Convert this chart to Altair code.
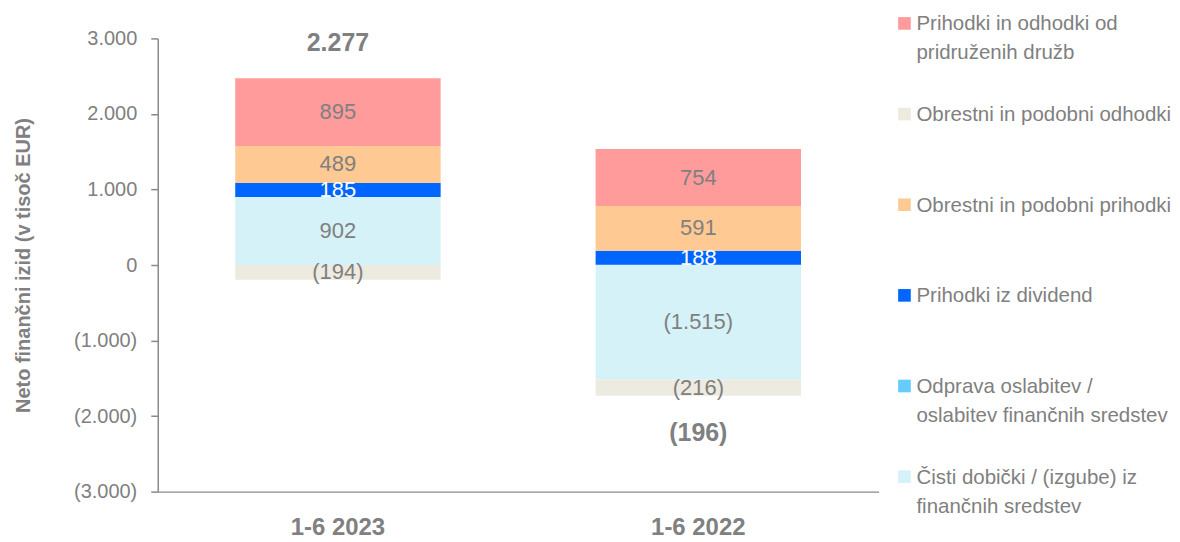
import altair as alt
import pandas as pd

periods = ["1-6 2023", "1-6 2022"]
categories = [
    "Čisti dobički / (izgube) iz finančnih sredstev",
    "Odprava oslabitev / oslabitev finančnih sredstev",
    "Prihodki iz dividend",
    "Obrestni in podobni prihodki",
    "Prihodki in odhodki od pridruženih družb",
    "Obrestni in podobni odhodki",
]
values_2023 = [902, 0, 185, 489, 895, -194]
values_2022 = [-1515, 2, 188, 591, 754, -216]
colors = ["#D5F2F8", "#66CCFF", "#0066FF", "#FFC993", "#FF9B9B", "#EDEAE0"]
label_colors = ["#808080", "#808080", "#FFFFFF", "#808080", "#808080", "#808080"]

legend_labels = [
    "Prihodki in odhodki od\npridruženih družb",
    "Obrestni in podobni odhodki",
    "Obrestni in podobni prihodki",
    "Prihodki iz dividend",
    "Odprava oslabitev /\noslabitev finančnih sredstev",
    "Čisti dobički / (izgube) iz\nfinančnih sredstev",
]
legend_cat_index = [4, 5, 3, 2, 1, 0]

GRAY = "#808080"
AXIS_GRAY = "#8a8a8a"
FONT = "Liberation Sans"

rows = []
for p, vals in zip(periods, [values_2023, values_2022]):
    for i, (c, v) in enumerate(zip(categories, vals)):
        rows.append({"period": p, "category": c, "value": v, "order": i,
                     "lcolor": label_colors[i], "show": 0 if i == 1 else 1})
df = pd.DataFrame(rows)

leg = pd.DataFrame({
    "idx": list(range(len(legend_labels))),
    "label": legend_labels,
    "col": [colors[i] for i in legend_cat_index],
})

fmt = ("datum.value < 0 ? '(' + replace(format(-datum.value, ','), ',', '.') + ')'"
       " : replace(format(datum.value, ','), ',', '.')")
fmt_total = ("datum.total < 0 ? '(' + replace(format(-datum.total, ','), ',', '.') + ')'"
             " : replace(format(datum.total, ','), ',', '.')")

yscale = alt.Scale(domain=[-3000, 3000], nice=False, zero=False)
xscale = alt.Scale(domain=periods, paddingInner=0.43, paddingOuter=0.215)

base = alt.Chart(df).transform_stack(
    stack="value", groupby=["period"], as_=["v0", "v1"],
    sort=[alt.SortField("order", order="ascending")]
).transform_calculate(mid="(datum.v0 + datum.v1) / 2", label=fmt)

bars = base.mark_bar().encode(
    x=alt.X("period:N", scale=xscale, sort=periods,
            axis=alt.Axis(title=None, labelAngle=0, labelFontSize=24, labelFontWeight="bold",
                          labelColor=GRAY, ticks=False, labelPadding=24,
                          domainColor=AXIS_GRAY, domainWidth=1.5, labelFont=FONT)),
    y=alt.Y("v0:Q", scale=yscale,
            axis=alt.Axis(values=[-3000, -2000, -1000, 0, 1000, 2000, 3000], labelExpr=fmt,
                          title="Neto finančni izid (v tisoč EUR)", titleFontSize=20,
                          titleFontWeight="bold", titleColor=GRAY, titlePadding=40,
                          labelColor=GRAY, labelFontSize=20, labelPadding=14, tickSize=7,
                          tickColor=AXIS_GRAY, domainColor=AXIS_GRAY, domainWidth=1.5,
                          tickWidth=1.5, grid=False, labelFont=FONT, titleFont=FONT)),
    y2="v1:Q",
    color=alt.Color("category:N", scale=alt.Scale(domain=categories, range=colors), legend=None),
)

labels = base.transform_filter("datum.show == 1").mark_text(
    fontSize=22, font=FONT, baseline="middle"
).encode(
    x=alt.X("period:N", scale=xscale, sort=periods),
    y=alt.Y("mid:Q", scale=yscale),
    text="label:N",
    color=alt.Color("lcolor:N", scale=None),
)

tot_base = alt.Chart(df).transform_calculate(
    pos="max(datum.value, 0)", neg="min(datum.value, 0)"
).transform_aggregate(
    total="sum(value)", top="sum(pos)", bottom="sum(neg)", groupby=["period"]
).transform_calculate(tlabel=fmt_total)

tot_pos = tot_base.transform_filter("datum.total >= 0").mark_text(
    fontSize=25, fontWeight="bold", color=GRAY, font=FONT, baseline="middle", dy=-35
).encode(x=alt.X("period:N", scale=xscale, sort=periods),
         y=alt.Y("top:Q", scale=yscale), text="tlabel:N")

tot_neg = tot_base.transform_filter("datum.total < 0").mark_text(
    fontSize=25, fontWeight="bold", color=GRAY, font=FONT, baseline="middle", dy=37
).encode(x=alt.X("period:N", scale=xscale, sort=periods),
         y=alt.Y("bottom:Q", scale=yscale), text="tlabel:N")

main = alt.layer(bars, labels, tot_pos, tot_neg)

lscale = alt.Scale(domain=[0, 5], range=[-15, 439], zero=False, nice=False)
leg_sq = alt.Chart(leg).mark_square(size=160, opacity=1).encode(
    x=alt.value(748),
    y=alt.Y("idx:Q", scale=lscale, axis=None),
    color=alt.Color("col:N", scale=None),
)
leg_tx = alt.Chart(leg).mark_text(
    align="left", baseline="top", dy=-9, fontSize=20.5, font=FONT, color=GRAY,
    lineBreak="\n", lineHeight=29
).encode(
    x=alt.value(760),
    y=alt.Y("idx:Q", scale=lscale, axis=None),
    text="label:N",
)

chart = alt.layer(main, leg_sq, leg_tx).resolve_scale(y="independent").properties(
    width=722, height=454,
    padding={"left": 5, "top": 6, "right": 0, "bottom": 0},
).configure_view(stroke=None)

chart.save("out.html", embed_options={"renderer": "svg", "actions": False})
